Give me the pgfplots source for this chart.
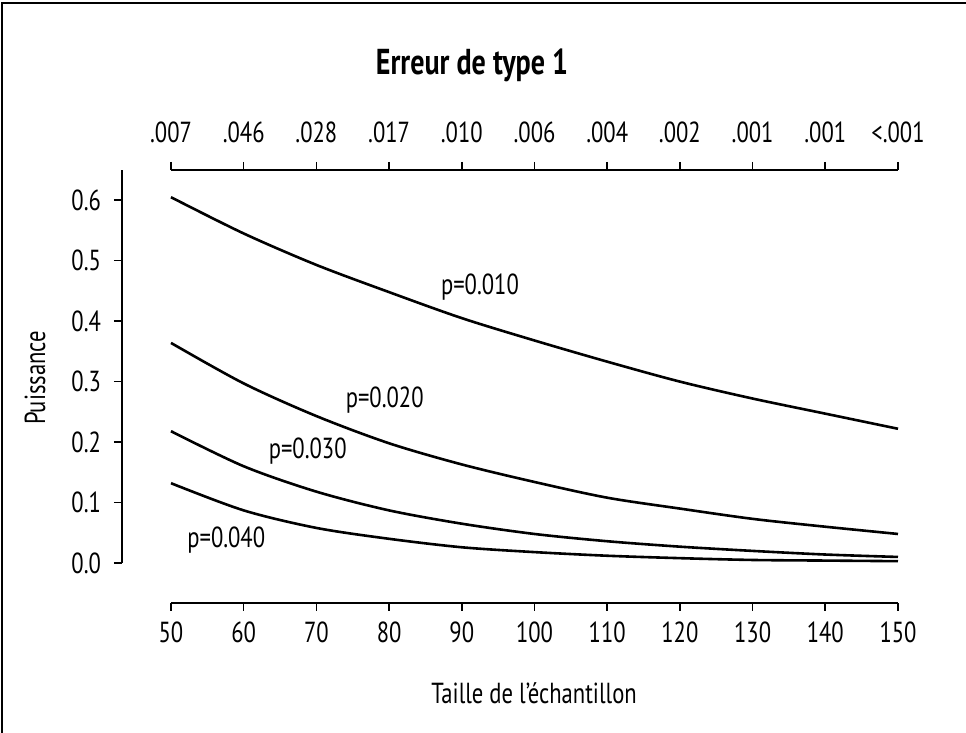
\documentclass[border=0pt]{standalone}
\usepackage{fontspec}
\setmainfont[FakeStretch=0.78]{PT Sans}
\usepackage{pgfplots}
\pgfplotsset{compat=1.18}
\newcommand{\lblfont}{\fontsize{14.5}{16}\selectfont}

\begin{document}
\begin{tikzpicture}
  \useasboundingbox (-85.5pt,-85pt) rectangle (397.5pt,281.5pt);
  % partial frame (top and left edges)
  \draw[line width=1pt] (-84.5pt,-85pt) -- (-84.5pt,280pt) -- (397.5pt,280pt);

  % main plot with detached bottom and left axes
  \begin{axis}[
    at={(0pt,0pt)}, anchor=south west,
    scale only axis,
    width=363.5pt, height=196.5pt,
    xmin=50, xmax=150, ymin=0, ymax=0.65,
    axis x line*=bottom, axis y line*=left,
    x axis line style={yshift=-20pt, line width=0.8pt, -},
    y axis line style={xshift=-24.5pt, line width=0.8pt, -},
    xtick style={yshift=-20pt, line width=0.8pt, black},
    ytick style={xshift=-24.5pt, line width=0.8pt, black},
    xticklabel shift=20pt,
    yticklabel shift=24.5pt,
    tick align=outside,
    major tick length=4pt,
    xtick={50,60,...,150},
    xticklabels={50,60,70,80,90,100,110,120,130,140,150},
    ytick={0,0.1,0.2,0.3,0.4,0.5,0.6},
    yticklabels={0.0,0.1,0.2,0.3,0.4,0.5,0.6},
    ticklabel style={font=\lblfont},
    xticklabel style={yshift=-2pt},
    yticklabel style={xshift=-3pt},
    clip=false,
  ]
    % p = 0.010
    \addplot[black, line width=1.3pt, smooth] coordinates {
      (50,0.605) (60,0.545) (70,0.493) (80,0.448) (90,0.405) (100,0.368)
      (110,0.333) (120,0.300) (130,0.272) (140,0.247) (150,0.222)};
    % p = 0.020
    \addplot[black, line width=1.3pt, smooth] coordinates {
      (50,0.364) (60,0.297) (70,0.243) (80,0.198) (90,0.163) (100,0.134)
      (110,0.108) (120,0.090) (130,0.073) (140,0.060) (150,0.048)};
    % p = 0.030
    \addplot[black, line width=1.3pt, smooth] coordinates {
      (50,0.218) (60,0.160) (70,0.118) (80,0.087) (90,0.065) (100,0.048)
      (110,0.036) (120,0.027) (130,0.020) (140,0.014) (150,0.010)};
    % p = 0.040
    \addplot[black, line width=1.3pt, smooth] coordinates {
      (50,0.132) (60,0.087) (70,0.058) (80,0.040) (90,0.026) (100,0.018)
      (110,0.012) (120,0.008) (130,0.005) (140,0.004) (150,0.003)};

    \node[font=\lblfont] at (axis cs:92.5,0.456) {p=0.010};
    \node[font=\lblfont] at (axis cs:79.4,0.269) {p=0.020};
    \node[font=\lblfont] at (axis cs:68.8,0.185) {p=0.030};
    \node[font=\lblfont] at (axis cs:57.6,0.038) {p=0.040};
  \end{axis}

  % top axis: type 1 error
  \begin{axis}[
    at={(0pt,0pt)}, anchor=south west,
    scale only axis,
    width=363.5pt, height=196.5pt,
    xmin=50, xmax=150, ymin=0, ymax=0.65,
    axis x line*=top, axis y line=none,
    x axis line style={line width=0.8pt, -},
    xtick style={line width=0.8pt, black},
    tick align=outside,
    major tick length=4pt,
    xtick={50,60,...,150},
    xticklabels={.007,.046,.028,.017,.010,.006,.004,.002,.001,.001,<.001},
    ticklabel style={font=\lblfont},
    xticklabel style={yshift=6pt},
  ]
    \addplot[draw=none, forget plot] coordinates {(50,0) (150,0)};
  \end{axis}

  \node[anchor=base, font=\bfseries\fontsize{18}{20}\selectfont] at (150.5pt,244pt) {Erreur de type 1};
  \node[rotate=90, font=\lblfont] at (-68pt,92.5pt) {Puissance};
  \node[font=\lblfont] at (181.5pt,-65pt) {Taille de l’échantillon};
\end{tikzpicture}
\end{document}
